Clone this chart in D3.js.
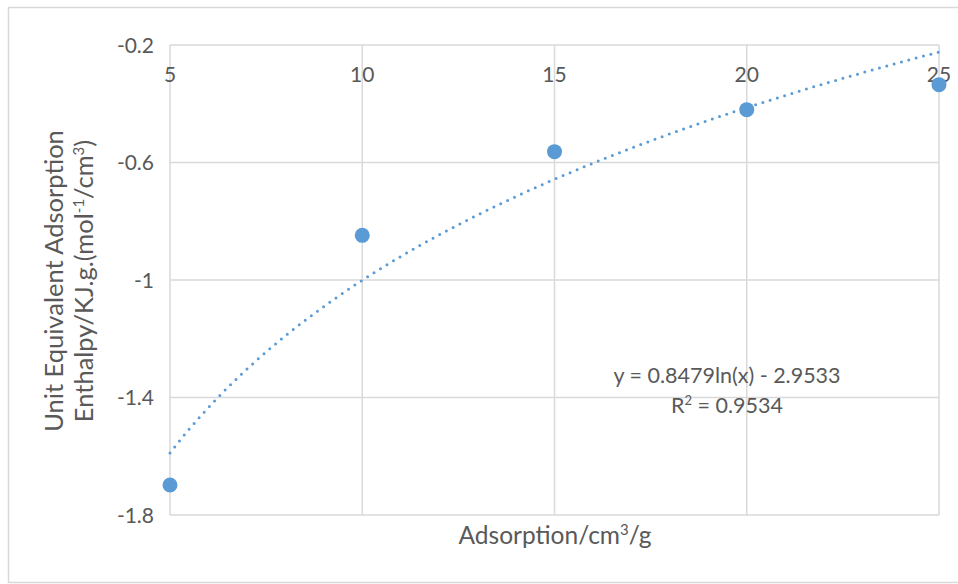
<!DOCTYPE html>
<html>
<head>
<meta charset="utf-8">
<script src="https://cdn.jsdelivr.net/npm/d3@7"></script>
<style>
  body { margin: 0; background: #fff; }
  text { font-family: Lato, "Open Sans", sans-serif; fill: #595959; }
</style>
</head>
<body>
<svg id="chart" width="958" height="584"></svg>
<script>
// data
const adsorption = [5, 10, 15, 20, 25];
const enthalpy = [-1.698, -0.848, -0.563, -0.42, -0.335];
const xTicks = [5, 10, 15, 20, 25];
const yTicks = [-0.2, -0.6, -1, -1.4, -1.8];
// trendline printed on the chart: y = a ln(x) + b
const fitA = 0.8479;
const fitB = -2.9533;
const fitLabel = "y = 0.8479ln(x) - 2.9533";
const r2Value = "0.9534";

const svg = d3.select("#chart");
const m = { left: 170, right: 939, top: 45, bottom: 515 };
const blue = "#5b9bd5";
const grid = "#d9d9d9";

const x = d3.scaleLinear().domain([5, 25]).range([m.left, m.right]);
const y = d3.scaleLinear().domain([-1.8, -0.2]).range([m.bottom, m.top]);

// chart area border
svg.append("rect")
    .attr("x", 8.5).attr("y", 7.5)
    .attr("width", 958).attr("height", 575)
    .attr("fill", "none")
    .attr("stroke", grid)
    .attr("stroke-width", 1.5);

// horizontal grid + y labels
svg.append("g").selectAll("line")
    .data(yTicks)
    .join("line")
    .attr("x1", m.left).attr("x2", m.right)
    .attr("y1", d => y(d)).attr("y2", d => y(d))
    .attr("stroke", grid).attr("stroke-width", 1.5);

svg.append("g").selectAll("text")
    .data(yTicks)
    .join("text")
    .attr("x", 154)
    .attr("y", d => y(d))
    .attr("dy", "0.36em")
    .attr("text-anchor", "end")
    .attr("font-size", "21px")
    .text(d => String(d));

// vertical grid + x labels (axis crosses at the top)
svg.append("g").selectAll("line")
    .data(xTicks)
    .join("line")
    .attr("x1", d => x(d)).attr("x2", d => x(d))
    .attr("y1", m.top).attr("y2", m.bottom)
    .attr("stroke", grid).attr("stroke-width", 1.5);

svg.append("g").selectAll("text")
    .data(xTicks)
    .join("text")
    .attr("x", d => x(d))
    .attr("y", 82)
    .attr("text-anchor", "middle")
    .attr("font-size", "21px")
    .text(d => d);

// logarithmic trendline from the printed coefficients
const fitX = d3.range(5, 25.001, 0.25);
const line = d3.line()
    .x(d => x(d))
    .y(d => y(fitA * Math.log(d) + fitB))
    .curve(d3.curveMonotoneX);

svg.append("path")
    .datum(fitX)
    .attr("d", line)
    .attr("fill", "none")
    .attr("stroke", blue)
    .attr("stroke-width", 3)
    .attr("stroke-linecap", "round")
    .attr("stroke-dasharray", "0 7.6");

// markers
svg.append("g").selectAll("circle")
    .data(adsorption)
    .join("circle")
    .attr("cx", d => x(d))
    .attr("cy", (d, i) => y(enthalpy[i]))
    .attr("r", 7.5)
    .attr("fill", blue);

// equation label
svg.append("text")
    .attr("x", 727).attr("y", 383)
    .attr("text-anchor", "middle")
    .attr("font-size", "21.5px")
    .text(fitLabel);
const r2 = svg.append("text")
    .attr("x", 727).attr("y", 413)
    .attr("text-anchor", "middle")
    .attr("font-size", "21.5px");
r2.append("tspan").text("R");
r2.append("tspan").attr("baseline-shift", "super").attr("font-size", "13px").text("2");
r2.append("tspan").text(" = " + r2Value);

// axis titles
const xt = svg.append("text")
    .attr("x", 555).attr("y", 544)
    .attr("text-anchor", "middle")
    .attr("font-size", "24.5px");
xt.append("tspan").text("Adsorption/cm");
xt.append("tspan").attr("baseline-shift", "super").attr("font-size", "15px").text("3");
xt.append("tspan").text("/g");

const yt = svg.append("text")
    .attr("transform", "translate(63,281) rotate(-90)")
    .attr("text-anchor", "middle")
    .attr("font-size", "25.5px")
    .text("Unit Equivalent Adsorption");
const l2 = svg.append("text")
    .attr("transform", "translate(93,281) rotate(-90)")
    .attr("text-anchor", "middle")
    .attr("font-size", "25.5px");
l2.append("tspan").text("Enthalpy/KJ.g.(mol");
l2.append("tspan").attr("baseline-shift", "super").attr("font-size", "15px").text("-1");
l2.append("tspan").text("/cm");
l2.append("tspan").attr("baseline-shift", "super").attr("font-size", "15px").text("3");
l2.append("tspan").text(")");
</script>
</body>
</html>
